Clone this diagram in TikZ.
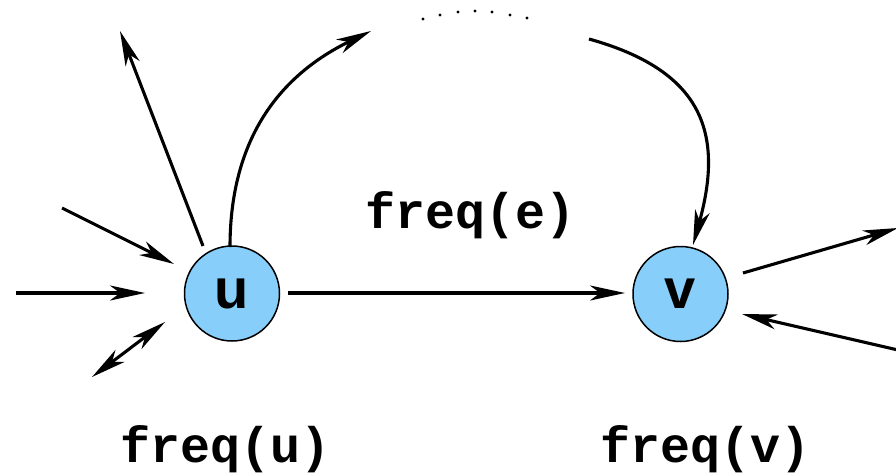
\documentclass[tikz,border=0pt]{standalone}
\usepackage{fontspec}
\usetikzlibrary{arrows.meta}
\newfontfamily\lblfont{Liberation Sans}
\newfontfamily\codefont{Liberation Mono}
\definecolor{nodeblue}{HTML}{87CEFA}
\begin{document}
\begin{tikzpicture}[x=1pt,y=-1pt,
  vertex/.style={circle,draw=black,line width=1.5pt,fill=nodeblue,minimum size=95pt,inner sep=0pt,
    font=\lblfont\bfseries\fontsize{56}{56}\selectfont},
  tip/.tip={Stealth[length=35pt,width=15pt,inset=10pt]},
  conn/.style={line width=3.1pt,-tip},
  bconn/.style={line width=3.1pt,tip-tip},
  freqlbl/.style={font=\codefont\bfseries\fontsize{50}{50}\selectfont,anchor=base,inner sep=0pt}]
\useasboundingbox (0,0) rectangle (896,476);
\node[vertex] (u) at (232,293.5) {\raisebox{-4.5pt}{u}};
\node[vertex] (v) at (680.5,294) {\raisebox{-4.5pt}{v}};
\coordinate (inA) at (16,293);
\coordinate (inAt) at (145,293);
\coordinate (inB) at (62,208);
\coordinate (inBt) at (174,264);
\coordinate (outC0) at (203,246);
\coordinate (outC) at (120,31);
\coordinate (dA) at (92,377);
\coordinate (dB) at (165,322);
\coordinate (upS) at (230,247);
\coordinate (upE) at (371,31);
\coordinate (dnS) at (589,39);
\coordinate (dnE) at (693,245);
\coordinate (uvS) at (288,293);
\coordinate (uvE) at (625,293);
\coordinate (vo0) at (743,273);
\coordinate (vo) at (898,228);
\coordinate (vi0) at (898,350);
\coordinate (vi) at (742,314);
\draw[conn] (inA) -- (inAt);
\draw[conn] (inB) -- (inBt);
\draw[conn] (outC0) -- (outC);
\draw[bconn] (dA) -- (dB);
\draw[conn] (upS) .. controls (230,150) and (270,80) .. (upE);
\draw[conn] (dnS) .. controls (700,70) and (725,130) .. (dnE);
\draw[conn] (uvS) -- (uvE);
\draw[conn] (vo0) -- (vo);
\draw[conn] (vi0) -- (vi);
\foreach \x/\y in {423/19,440/15,458/12,475/11,492/12,510/15,527/18}
  \fill (\x,\y) circle (1.6pt);
\node[freqlbl] (fe) at (471,228) {freq(e)};
\node[freqlbl] (fu) at (226,462) {freq(u)};
\node[freqlbl] (fv) at (706,462) {freq(v)};
\end{tikzpicture}
\end{document}
